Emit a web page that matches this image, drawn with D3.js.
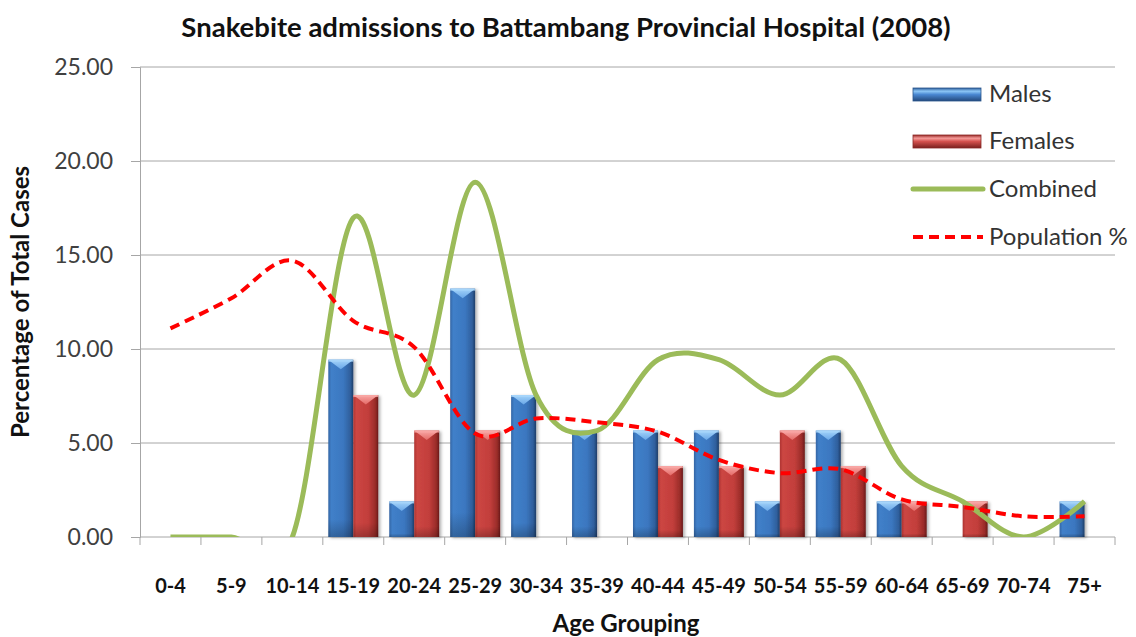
<!DOCTYPE html>
<html>
<head>
<meta charset="utf-8">
<script src="https://cdn.jsdelivr.net/npm/d3@7"></script>
<style>
body { margin: 0; background: #fff; }
text { font-family: Lato, "Open Sans", sans-serif; }
</style>
</head>
<body>
<div id="chart"></div>
<script>
// Chart data (percent of total cases)
var ageGroups = ["0-4", "5-9", "10-14", "15-19", "20-24", "25-29", "30-34", "35-39",
	"40-44", "45-49", "50-54", "55-59", "60-64", "65-69", "70-74", "75+"];
var males = [0, 0, 0, 9.43, 1.89, 13.21, 7.55, 5.66, 5.66, 5.66, 1.89, 5.66, 1.89, 0, 0, 1.89];
var females = [0, 0, 0, 7.55, 5.66, 5.66, 0, 0, 3.77, 3.77, 5.66, 3.77, 1.89, 1.89, 0, 0];
var combined = [0, 0, 0, 16.98, 7.55, 18.87, 7.55, 5.66, 9.43, 9.43, 7.55, 9.43, 3.77, 1.89, 0, 1.89];
var population = [11.1, 12.7, 14.7, 11.5, 10.1, 5.5, 6.3, 6.1, 5.6, 4.1, 3.4, 3.6, 2.0, 1.6, 1.1, 1.1];
var yTicks = [0, 5, 10, 15, 20, 25];
var legendLabels = ["Males", "Females", "Combined", "Population %"];

var width = 1136,
	height = 637,
	plotLeft = 140,
	plotRight = 1115,
	plotTop = 67,
	plotBottom = 537;

var svg = d3.select("#chart")
	.append("svg")
	.attr("width", width)
	.attr("height", height);

var defs = svg.append("defs");

// horizontal gradients for bar bodies
function bodyGradient(id, stops) {
	var g = defs.append("linearGradient").attr("id", id)
		.attr("x1", 0).attr("x2", 1).attr("y1", 0).attr("y2", 0);
	stops.forEach(function(s) {
		g.append("stop").attr("offset", s[0]).attr("stop-color", s[1]);
	});
}
bodyGradient("blueBody", [[0, "#3465a4"], [0.12, "#4080c9"], [0.6, "#3b77c0"], [0.88, "#2f5f9c"], [1, "#1e3d68"]]);
bodyGradient("redBody", [[0, "#ad3431"], [0.12, "#cc4643"], [0.6, "#c23e3b"], [0.88, "#9a2c29"], [1, "#6a1b19"]]);

function vertGradient(id, stops) {
	var g = defs.append("linearGradient").attr("id", id)
		.attr("x1", 0).attr("x2", 0).attr("y1", 0).attr("y2", 1);
	stops.forEach(function(s) {
		g.append("stop").attr("offset", s[0]).attr("stop-color", s[1]).attr("stop-opacity", s[2] == null ? 1 : s[2]);
	});
}
vertGradient("blueCap", [[0, "#a4d4fa"], [1, "#6aa8e8"]]);
vertGradient("redCap", [[0, "#f9a8a6"], [1, "#e46a67"]]);
vertGradient("bottomShade", [[0, "#000", 0], [0.9, "#000", 0], [1, "#000", 0.22]]);
vertGradient("blueLegend", [[0, "#2f5f9c"], [0.25, "#8cc6f6"], [0.5, "#4a88d2"], [1, "#24497c"]]);
vertGradient("redLegend", [[0, "#9a2c29"], [0.25, "#f49a98"], [0.5, "#d4514e"], [1, "#7a201e"]]);

var shadow = defs.append("filter").attr("id", "shadow")
	.attr("x", "-20%").attr("y", "-10%").attr("width", "150%").attr("height", "130%");
shadow.append("feDropShadow").attr("dx", 2).attr("dy", 1).attr("stdDeviation", 1.5)
	.attr("flood-color", "#000").attr("flood-opacity", 0.3);

defs.append("clipPath").attr("id", "plotClip")
	.append("rect").attr("x", plotLeft).attr("y", plotTop - 10)
	.attr("width", plotRight - plotLeft).attr("height", plotBottom - plotTop + 10);

// Scales
var x = d3.scaleBand().domain(ageGroups).range([plotLeft, plotRight]).padding(0);
var x1 = d3.scaleBand().domain(["m", "f"]).range([0, x.bandwidth()]).paddingInner(0).paddingOuter(0.22);
var y = d3.scaleLinear().domain([0, 25]).range([plotBottom, plotTop]);

// Gridlines
svg.append("g").selectAll("line")
	.data(yTicks.filter(function(d) { return d > 0; }))
	.enter().append("line")
	.attr("x1", plotLeft).attr("x2", plotRight)
	.attr("y1", function(d) { return y(d); })
	.attr("y2", function(d) { return y(d); })
	.attr("stroke", "#a6a6a6").attr("stroke-width", 1);

// Y axis
var yAxis = svg.append("g")
	.attr("transform", "translate(" + plotLeft + ",0)")
	.call(d3.axisLeft(y).tickValues(yTicks).tickFormat(d3.format(".2f")).tickSize(9).tickPadding(18));
yAxis.select(".domain").attr("stroke", "#a6a6a6");
yAxis.selectAll(".tick line").attr("stroke", "#a6a6a6");
yAxis.selectAll(".tick text")
	.attr("font-size", 23).attr("fill", "#404040")
	.style("font-family", "Lato, sans-serif");

// X axis line and boundary ticks
svg.append("line")
	.attr("x1", plotLeft).attr("x2", plotRight)
	.attr("y1", plotBottom).attr("y2", plotBottom)
	.attr("stroke", "#a6a6a6");
svg.append("g").selectAll("line")
	.data(ageGroups.concat(["end"]))
	.enter().append("line")
	.attr("x1", function(d, i) { return plotLeft + i * x.step(); })
	.attr("x2", function(d, i) { return plotLeft + i * x.step(); })
	.attr("y1", plotBottom).attr("y2", plotBottom + 8)
	.attr("stroke", "#a6a6a6");

svg.append("g").selectAll("text")
	.data(ageGroups)
	.enter().append("text")
	.attr("x", function(d) { return x(d) + x.bandwidth() / 2; })
	.attr("y", 593)
	.attr("text-anchor", "middle")
	.attr("font-size", 20)
	.attr("font-weight", "bold")
	.attr("fill", "#111")
	.text(function(d) { return d; });

// Bars
var barData = [];
ageGroups.forEach(function(g, i) {
	if (males[i] > 0) barData.push({ g: g, s: "m", v: males[i] });
	if (females[i] > 0) barData.push({ g: g, s: "f", v: females[i] });
});

var bars = svg.append("g").selectAll("g")
	.data(barData)
	.enter().append("g")
	.attr("transform", function(d) { return "translate(" + (x(d.g) + x1(d.s)) + "," + y(d.v) + ")"; });

bars.append("rect")
	.attr("width", x1.bandwidth())
	.attr("height", function(d) { return y(0) - y(d.v); })
	.attr("fill", function(d) { return d.s == "m" ? "url(#blueBody)" : "url(#redBody)"; })
	.attr("filter", "url(#shadow)");
bars.append("rect")
	.attr("width", x1.bandwidth())
	.attr("height", function(d) { return y(0) - y(d.v); })
	.attr("fill", "url(#bottomShade)");
bars.append("polygon")
	.attr("points", function(d) {
		var w = x1.bandwidth();
		return "0,0 " + w + ",0 " + (w / 2) + "," + (w * 0.38);
	})
	.attr("fill", function(d) { return d.s == "m" ? "url(#blueCap)" : "url(#redCap)"; });
bars.append("rect")
	.attr("width", x1.bandwidth())
	.attr("height", 2)
	.attr("fill", function(d) { return d.s == "m" ? "#a8d6fa" : "#f7a6a4"; })
	.attr("opacity", 0.8);

// Lines
var lineGen = d3.line()
	.x(function(d, i) { return x(ageGroups[i]) + x.bandwidth() / 2; })
	.y(function(d) { return y(d); })
	.curve(d3.curveCatmullRom.alpha(0));

var lines = svg.append("g").attr("clip-path", "url(#plotClip)");
lines.append("path")
	.datum(combined)
	.attr("d", lineGen)
	.attr("fill", "none")
	.attr("stroke", "#9bbb59")
	.attr("stroke-width", 5);
lines.append("path")
	.datum(population)
	.attr("d", lineGen)
	.attr("fill", "none")
	.attr("stroke", "#ff0000")
	.attr("stroke-width", 4)
	.attr("stroke-dasharray", "10,6");

// Legend
var legend = svg.append("g");
var legendY = [94, 141, 189, 237];
legend.append("rect").attr("x", 913).attr("y", legendY[0] - 6).attr("width", 68).attr("height", 13)
	.attr("fill", "url(#blueLegend)").attr("stroke", "#2a558c").attr("stroke-width", 0.8);
legend.append("rect").attr("x", 913).attr("y", legendY[1] - 6).attr("width", 68).attr("height", 13)
	.attr("fill", "url(#redLegend)").attr("stroke", "#8a2826").attr("stroke-width", 0.8);
legend.append("line").attr("x1", 913).attr("x2", 983).attr("y1", legendY[2]).attr("y2", legendY[2])
	.attr("stroke", "#9bbb59").attr("stroke-width", 5).attr("stroke-linecap", "round");
legend.append("line").attr("x1", 913).attr("x2", 983).attr("y1", legendY[3]).attr("y2", legendY[3])
	.attr("stroke", "#ff0000").attr("stroke-width", 4).attr("stroke-dasharray", "10,6");
legend.selectAll("text")
	.data(legendLabels)
	.enter().append("text")
	.attr("x", 989)
	.attr("y", function(d, i) { return legendY[i] + 8; })
	.attr("font-size", 24)
	.attr("fill", "#333")
	.text(function(d) { return d; });

// Titles
svg.append("text")
	.attr("x", 566).attr("y", 37)
	.attr("text-anchor", "middle")
	.attr("font-size", 27.5).attr("font-weight", "bold")
	.attr("fill", "#111")
	.text("Snakebite admissions to Battambang Provincial Hospital (2008)");

svg.append("text")
	.attr("x", 626).attr("y", 632)
	.attr("text-anchor", "middle")
	.attr("font-size", 24).attr("font-weight", "bold")
	.attr("fill", "#111")
	.text("Age Grouping");

svg.append("text")
	.attr("transform", "translate(29," + ((plotTop + plotBottom) / 2) + ") rotate(-90)")
	.attr("text-anchor", "middle")
	.attr("font-size", 24).attr("font-weight", "bold")
	.attr("fill", "#111")
	.text("Percentage of Total Cases");
</script>
</body>
</html>
